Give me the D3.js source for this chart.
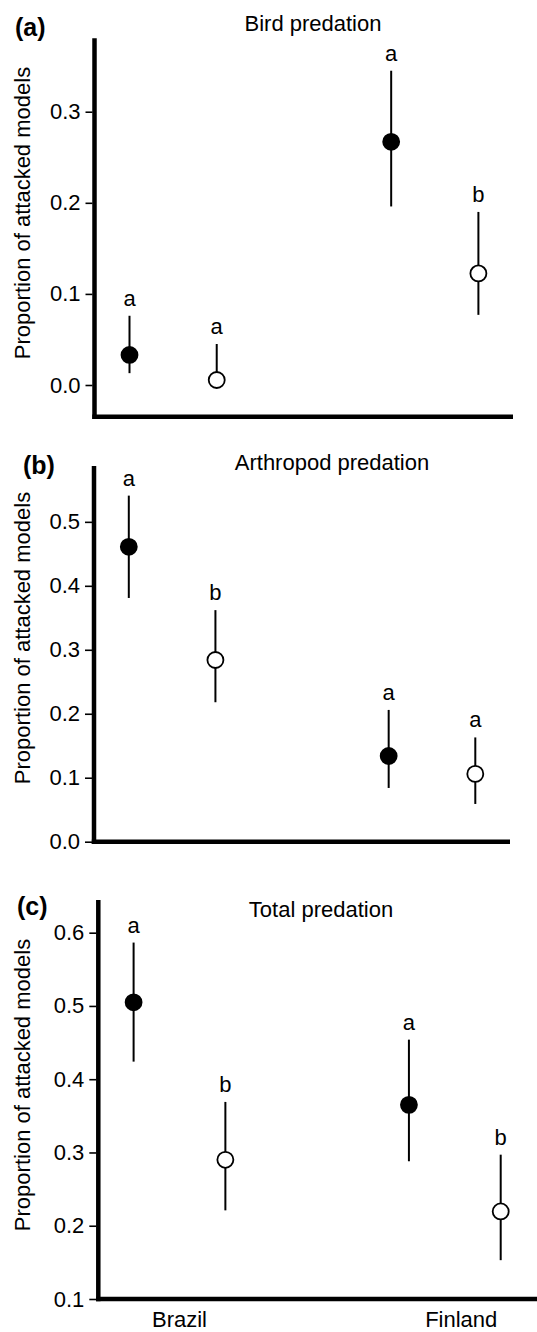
<!DOCTYPE html>
<html>
<head>
<meta charset="utf-8">
<script src="https://cdn.jsdelivr.net/npm/d3@7"></script>
<style>
  body { margin: 0; background: #fff; }
  svg { display: block; font-family: "Liberation Sans", Arial, sans-serif; }
</style>
</head>
<body>
<div id="chart"></div>
<script>
// Shared categories: two sites, each with two model types
var groups = ["Brazil", "Brazil", "Finland", "Finland"];
var slots = [0, 1, 3, 4];
var filled = [true, false, true, false];
var siteLabels = ["Brazil", "Finland"];
var siteSlots = [0.5, 3.57];

// (a) Bird predation
var birdMean = [0.033, 0.0055, 0.267, 0.1225];
var birdLow = [0.013, 0.0, 0.196, 0.077];
var birdHigh = [0.076, 0.045, 0.345, 0.19];
var birdLetters = ["a", "a", "a", "b"];
var birdTicks = [0.0, 0.1, 0.2, 0.3];

// (b) Arthropod predation
var arthMean = [0.461, 0.284, 0.134, 0.106];
var arthLow = [0.381, 0.218, 0.084, 0.059];
var arthHigh = [0.541, 0.362, 0.206, 0.163];
var arthLetters = ["a", "b", "a", "a"];
var arthTicks = [0.0, 0.1, 0.2, 0.3, 0.4, 0.5];

// (c) Total predation
var totalMean = [0.505, 0.29, 0.365, 0.2195];
var totalLow = [0.424, 0.221, 0.288, 0.153];
var totalHigh = [0.5865, 0.369, 0.454, 0.297];
var totalLetters = ["a", "b", "a", "b"];
var totalTicks = [0.1, 0.2, 0.3, 0.4, 0.5, 0.6];

var width = 537, height = 1332;

var svg = d3.select("#chart")
    .append("svg")
    .attr("width", width)
    .attr("height", height);

// panel layout (pixels) and value range of each vertical axis
var panels = [
    { tag: "(a)", title: "Bird predation", mean: birdMean, low: birdLow, high: birdHigh,
      letters: birdLetters, ticks: birdTicks, domain: [-0.0348, 0.3806],
      top: 38.3, bottom: 416.7, axisX: 94.5, right: 513, x0: 129.5, x4: 478.4,
      titleX: 313, titleY: 30.5, tagX: 15, tagY: 35.5, labelY: 213, xLabels: false },
    { tag: "(b)", title: "Arthropod predation", mean: arthMean, low: arthLow, high: arthHigh,
      letters: arthLetters, ticks: arthTicks, domain: [0.0, 0.5873],
      top: 466, bottom: 841.7, axisX: 94, right: 510, x0: 128.8, x4: 475.3,
      titleX: 332, titleY: 469.5, tagX: 23, tagY: 473.5, labelY: 638, xLabels: false },
    { tag: "(c)", title: "Total predation", mean: totalMean, low: totalLow, high: totalHigh,
      letters: totalLetters, ticks: totalTicks, domain: [0.1, 0.6446],
      top: 900, bottom: 1299, axisX: 98.3, right: 537, x0: 133.6, x4: 500.7,
      titleX: 321, titleY: 916.7, tagX: 17, tagY: 915, labelY: 1085, xLabels: true }
];

panels.forEach(function(p) {
    var g = svg.append("g");

    var xScale = d3.scaleLinear().domain([0, 4]).range([p.x0, p.x4]);
    var yScale = d3.scaleLinear().domain(p.domain).range([p.bottom, p.top]);

    // y axis ticks and labels
    var yAxis = d3.axisLeft(yScale)
        .tickValues(p.ticks)
        .tickFormat(d3.format(".1f"))
        .tickSize(7)
        .tickPadding(5);

    var ax = g.append("g")
        .attr("transform", "translate(" + (p.axisX - 2) + ",0)")
        .call(yAxis);
    ax.select(".domain").remove();
    ax.selectAll(".tick line").attr("stroke", "#000").attr("stroke-width", 1.6);
    ax.selectAll(".tick text")
        .attr("fill", "#000")
        .style("font-size", "22px")
        .style("font-family", "Liberation Sans, Arial, sans-serif");

    // thick axis lines
    g.append("line")
        .attr("x1", p.axisX).attr("x2", p.axisX)
        .attr("y1", p.top).attr("y2", p.bottom + 2.2)
        .attr("stroke", "#000").attr("stroke-width", 4.5);
    g.append("line")
        .attr("x1", p.axisX - 2.2).attr("x2", p.right)
        .attr("y1", p.bottom).attr("y2", p.bottom)
        .attr("stroke", "#000").attr("stroke-width", 4.5);

    var data = slots.map(function(s, i) {
        return { slot: s, group: groups[i], filled: filled[i], mean: p.mean[i],
                 low: p.low[i], high: p.high[i], letter: p.letters[i] };
    });

    // confidence intervals
    g.selectAll(".ci")
        .data(data)
        .enter()
        .append("line")
        .attr("x1", function(d) { return xScale(d.slot); })
        .attr("x2", function(d) { return xScale(d.slot); })
        .attr("y1", function(d) { return yScale(d.low); })
        .attr("y2", function(d) { return yScale(d.high); })
        .attr("stroke", "#000")
        .attr("stroke-width", 2);

    // means
    g.selectAll(".pt")
        .data(data)
        .enter()
        .append("circle")
        .attr("cx", function(d) { return xScale(d.slot); })
        .attr("cy", function(d) { return yScale(d.mean); })
        .attr("r", 8)
        .attr("fill", function(d) { return d.filled ? "#000" : "#fff"; })
        .attr("stroke", "#000")
        .attr("stroke-width", 1.8);

    // significance letters
    g.selectAll(".letter")
        .data(data)
        .enter()
        .append("text")
        .attr("x", function(d) { return xScale(d.slot); })
        .attr("y", function(d) { return yScale(d.high) - 10; })
        .attr("text-anchor", "middle")
        .style("font-size", "22px")
        .text(function(d) { return d.letter; });

    // panel title and tag
    g.append("text")
        .attr("x", p.titleX).attr("y", p.titleY)
        .attr("text-anchor", "middle")
        .style("font-size", "22px")
        .text(p.title);
    g.append("text")
        .attr("x", p.tagX).attr("y", p.tagY)
        .style("font-size", "25px")
        .style("font-weight", "bold")
        .text(p.tag);

    // y axis title
    g.append("text")
        .attr("transform", "translate(30," + p.labelY + ") rotate(-90)")
        .attr("text-anchor", "middle")
        .style("font-size", "22px")
        .text("Proportion of attacked models");

    if (p.xLabels) {
        g.selectAll(".site")
            .data(siteLabels)
            .enter()
            .append("text")
            .attr("x", function(d, i) { return xScale(siteSlots[i]); })
            .attr("y", 1326.5)
            .attr("text-anchor", "middle")
            .style("font-size", "22px")
            .text(function(d) { return d; });
    }
});
</script>
</body>
</html>
